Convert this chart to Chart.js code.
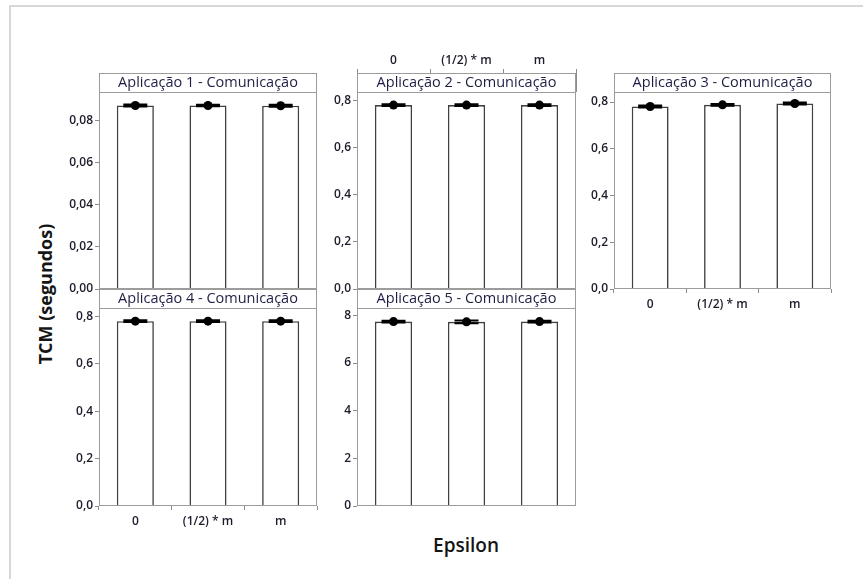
<!DOCTYPE html>
<html>
<head>
<meta charset="utf-8">
<script src="https://cdn.jsdelivr.net/npm/chart.js@4.4.1/dist/chart.umd.min.js"></script>
<style>
  html, body { margin: 0; padding: 0; background: #fff; }
  body { width: 863px; height: 579px; position: relative; overflow: hidden; font-family: "Open Sans", sans-serif; }
  .frame { position: absolute; left: 9px; top: 5px; width: 880px; height: 600px; border: 2px solid #d8d8d8; box-sizing: border-box; }
  .panel { position: absolute; }
  #ytitle { position: absolute; left: 45px; top: 294px; transform: translate(-50%, -50%) rotate(-90deg);
            font-weight: 700; font-size: 18px; color: #151515; white-space: nowrap; }
  #xtitle { position: absolute; left: 466px; top: 545px; transform: translate(-50%, -50%);
            font-weight: 600; font-size: 19px; color: #151515; white-space: nowrap; }
</style>
</head>
<body>
<div class="frame"></div>
<div id="ytitle">TCM (segundos)</div>
<div id="xtitle">Epsilon</div>

<script>
// Epsilon levels on the x axis
const epsilonLevels = ['0', '(1/2) * m', 'm'];

// Mean TCM (seconds) and interval limits for each application
const app1Mean  = [0.0870, 0.0870, 0.0869];
const app1Lower = [0.0865, 0.0866, 0.0864];
const app1Upper = [0.0875, 0.0874, 0.0874];

const app2Mean  = [0.781, 0.781, 0.781];
const app2Lower = [0.777, 0.777, 0.777];
const app2Upper = [0.785, 0.785, 0.785];

const app3Mean  = [0.781, 0.788, 0.794];
const app3Lower = [0.777, 0.784, 0.790];
const app3Upper = [0.785, 0.792, 0.798];

const app4Mean  = [0.780, 0.780, 0.780];
const app4Lower = [0.776, 0.776, 0.776];
const app4Upper = [0.784, 0.784, 0.784];

const app5Mean  = [7.74, 7.73, 7.74];
const app5Lower = [7.70, 7.67, 7.70];
const app5Upper = [7.78, 7.79, 7.78];

// Y tick values per panel
const ticksSmall = [0, 0.02, 0.04, 0.06, 0.08];
const ticksMid   = [0, 0.2, 0.4, 0.6, 0.8];
const ticksLarge = [0, 2, 4, 6, 8];

const LABEL_W = 60;   // room for y tick labels
const PAD_TOP = 40;   // room above the header strip
const PAD_BOTTOM = 30;
const PAD_RIGHT = 6;

const panelFrame = {
  id: 'panelFrame',
  afterDatasetsDraw(chart) {
    const ds = chart.data.datasets[1];
    const x = chart.scales.x, y = chart.scales.y;
    const ctx = chart.ctx;
    ctx.save();
    ctx.strokeStyle = '#000';
    ctx.lineWidth = 2;
    ds.data.forEach((v, i) => {
      const px = x.getPixelForValue(i);
      const yl = y.getPixelForValue(ds.lower[i]);
      const yu = y.getPixelForValue(ds.upper[i]);
      ctx.beginPath();
      ctx.moveTo(px - 12, yl); ctx.lineTo(px + 12, yl);
      ctx.moveTo(px - 12, yu); ctx.lineTo(px + 12, yu);
      ctx.moveTo(px, yl); ctx.lineTo(px, yu);
      ctx.stroke();
    });
    ctx.restore();
  },
  afterDraw(chart, args, opts) {
    const ctx = chart.ctx, a = chart.chartArea;
    const hh = opts.headerHeight;
    const hTop = a.top - hh;
    ctx.save();
    ctx.fillStyle = '#fff';
    ctx.fillRect(a.left, hTop, a.right - a.left, hh);
    ctx.strokeStyle = '#9c9c9c';
    ctx.lineWidth = 1;
    ctx.strokeRect(a.left + 0.5, hTop + 0.5, a.right - a.left - 1, a.bottom - hTop - 1);
    ctx.beginPath();
    ctx.moveTo(a.left, a.top + 0.5);
    ctx.lineTo(a.right, a.top + 0.5);
    ctx.stroke();
    ctx.fillStyle = '#1e1e44';
    ctx.font = '14.5px "Open Sans"';
    ctx.textAlign = 'center';
    ctx.textBaseline = 'middle';
    ctx.fillText(opts.title, (a.left + a.right) / 2, hTop + hh / 2 + 0.5);
    ctx.restore();
  }
};

const tickFont = { family: 'Open Sans', size: 12, weight: '600' };
const tickColor = '#1c1c2c';

function makePanel(cfg) {
  const plotW = cfg.right - cfg.left;
  const plotH = cfg.bottom - cfg.plotTop;
  const hh = cfg.plotTop - cfg.headerTop;
  const w = LABEL_W + plotW + PAD_RIGHT;
  const h = PAD_TOP + hh + plotH + PAD_BOTTOM;

  const holder = document.createElement('div');
  holder.className = 'panel';
  holder.style.left = (cfg.left - LABEL_W) + 'px';
  holder.style.top = (cfg.headerTop - PAD_TOP) + 'px';
  holder.style.width = w + 'px';
  holder.style.height = h + 'px';
  const canvas = document.createElement('canvas');
  canvas.width = w; canvas.height = h;
  canvas.style.width = w + 'px'; canvas.style.height = h + 'px';
  holder.appendChild(canvas);
  document.body.appendChild(holder);

  const padding = { left: 0, right: PAD_RIGHT, top: PAD_TOP + hh, bottom: PAD_BOTTOM };
  const xScale = {
    type: 'category',
    offset: true,
    display: cfg.xAxis !== 'none',
    position: cfg.xAxis === 'top' ? 'top' : 'bottom',
    border: { display: false },
    grid: { drawOnChartArea: false, drawTicks: true, color: '#8c8c8c',
            tickLength: cfg.xAxis === 'top' ? hh + 4 : 4 },
    ticks: { font: tickFont, color: tickColor, padding: cfg.xAxis === 'top' ? 1 : 4,
             maxRotation: 0, autoSkip: false }
  };
  if (cfg.xAxis === 'top') {
    padding.top = 0;
    xScale.afterFit = s => { s.height = PAD_TOP + hh; };
  } else if (cfg.xAxis === 'bottom') {
    padding.bottom = 0;
    xScale.afterFit = s => { s.height = PAD_BOTTOM; };
  }

  new Chart(canvas, {
    type: 'bar',
    data: {
      labels: epsilonLevels,
      datasets: [
        { type: 'bar', data: cfg.mean, backgroundColor: '#ffffff', borderColor: '#404040',
          borderWidth: 1.6, barPercentage: 0.51, categoryPercentage: 1.0, order: 2 },
        { type: 'line', data: cfg.mean, lower: cfg.lower, upper: cfg.upper, showLine: false,
          pointRadius: 4.5, pointBackgroundColor: '#000', pointBorderColor: '#000',
          pointBorderWidth: 0, order: 1 }
      ]
    },
    options: {
      responsive: false,
      animation: false,
      devicePixelRatio: 1,
      layout: { padding },
      plugins: {
        legend: { display: false },
        tooltip: { enabled: false },
        panelFrame: { title: cfg.title, headerHeight: hh }
      },
      scales: {
        x: xScale,
        y: {
          type: 'linear',
          min: 0,
          max: cfg.yMax,
          border: { display: false },
          grid: { drawOnChartArea: false, drawTicks: true, tickLength: 4, color: '#8c8c8c' },
          afterFit: s => { s.width = LABEL_W; },
          afterBuildTicks: s => { s.ticks = cfg.ticks.map(v => ({ value: v })); },
          ticks: {
            font: tickFont, color: tickColor, padding: 2,
            callback: v => v.toFixed(cfg.decimals).replace('.', ',')
          }
        }
      }
    },
    plugins: [panelFrame]
  });
}

const rowTop = { headerTop: 73, plotTop: 92, bottom: 289 };
const rowBottom = { headerTop: 289, plotTop: 308, bottom: 506 };
const col1 = { left: 99, right: 317 };
const col2 = { left: 357, right: 576 };
const col3 = { left: 614, right: 831 };

makePanel({ ...rowTop, ...col1, title: 'Aplicação 1 - Comunicação', mean: app1Mean, lower: app1Lower,
  upper: app1Upper, yMax: 0.0934, ticks: ticksSmall, decimals: 2, xAxis: 'none' });
makePanel({ ...rowTop, ...col2, title: 'Aplicação 2 - Comunicação', mean: app2Mean, lower: app2Lower,
  upper: app2Upper, yMax: 0.8366, ticks: ticksMid, decimals: 1, xAxis: 'top' });
makePanel({ ...rowTop, ...col3, title: 'Aplicação 3 - Comunicação', mean: app3Mean, lower: app3Lower,
  upper: app3Upper, yMax: 0.843, ticks: ticksMid, decimals: 1, xAxis: 'bottom' });
makePanel({ ...rowBottom, ...col1, title: 'Aplicação 4 - Comunicação', mean: app4Mean, lower: app4Lower,
  upper: app4Upper, yMax: 0.8355, ticks: ticksMid, decimals: 1, xAxis: 'bottom' });
makePanel({ ...rowBottom, ...col2, title: 'Aplicação 5 - Comunicação', mean: app5Mean, lower: app5Lower,
  upper: app5Upper, yMax: 8.31, ticks: ticksLarge, decimals: 0, xAxis: 'none' });
</script>
</body>
</html>
